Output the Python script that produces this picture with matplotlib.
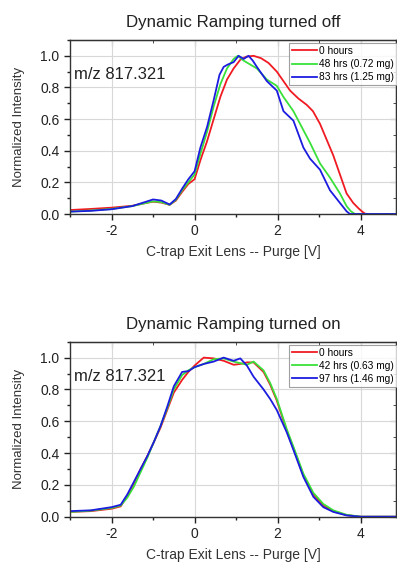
import matplotlib
matplotlib.use("Agg")
import matplotlib.pyplot as plt
from matplotlib.ticker import MultipleLocator

plt.rcParams['font.family'] = ['Liberation Sans', 'DejaVu Sans']
plt.rcParams['axes.unicode_minus'] = False

# ---- Data: top panel (Dynamic Ramping turned off) ----
off_red_x = [-3.0, -2.5, -2.0, -1.5, -1.2, -1.0, -0.8, -0.6, -0.45, -0.3, -0.15, 0.0, 0.14, 0.3, 0.46, 0.62, 0.78, 0.94, 1.1, 1.25, 1.42, 1.6, 1.78, 1.98, 2.14, 2.3, 2.5, 2.7, 2.85, 3.02, 3.18, 3.34, 3.5, 3.66, 3.82, 3.95, 4.05, 4.12, 4.85]
off_red_y = [0.025, 0.032, 0.04, 0.052, 0.068, 0.078, 0.072, 0.058, 0.085, 0.14, 0.19, 0.22, 0.34, 0.46, 0.6, 0.74, 0.85, 0.92, 0.975, 0.995, 1.0, 0.985, 0.955, 0.9, 0.84, 0.78, 0.73, 0.69, 0.65, 0.57, 0.47, 0.37, 0.25, 0.13, 0.07, 0.035, 0.012, 0.0, 0.0]

off_green_x = [-3.0, -2.5, -2.0, -1.5, -1.2, -1.0, -0.8, -0.6, -0.45, -0.3, -0.15, 0.0, 0.14, 0.3, 0.46, 0.62, 0.78, 0.94, 1.04, 1.18, 1.34, 1.5, 1.74, 1.98, 2.14, 2.38, 2.62, 2.78, 3.02, 3.26, 3.5, 3.66, 3.76, 3.86, 4.85]
off_green_y = [0.015, 0.022, 0.032, 0.05, 0.068, 0.08, 0.075, 0.058, 0.09, 0.15, 0.2, 0.25, 0.38, 0.52, 0.68, 0.82, 0.92, 0.98, 1.0, 0.97, 0.945, 0.92, 0.85, 0.81, 0.74, 0.65, 0.53, 0.45, 0.32, 0.23, 0.13, 0.05, 0.018, 0.0, 0.0]

off_blue_x = [-3.0, -2.5, -2.0, -1.5, -1.2, -1.0, -0.8, -0.6, -0.45, -0.3, -0.15, 0.0, 0.14, 0.3, 0.46, 0.6, 0.7, 0.8, 0.94, 1.06, 1.18, 1.3, 1.4, 1.5, 1.74, 1.98, 2.14, 2.38, 2.62, 2.78, 3.02, 3.26, 3.5, 3.66, 3.74, 4.85]
off_blue_y = [0.015, 0.02, 0.03, 0.05, 0.075, 0.092, 0.085, 0.06, 0.095, 0.16, 0.22, 0.27, 0.42, 0.55, 0.72, 0.88, 0.93, 0.945, 0.96, 1.0, 0.98, 1.0, 0.97, 0.93, 0.84, 0.78, 0.65, 0.59, 0.42, 0.35, 0.28, 0.15, 0.07, 0.017, 0.0, 0.0]

# ---- Data: bottom panel (Dynamic Ramping turned on) ----
on_red_x = [-3.0, -2.5, -2.0, -1.78, -1.62, -1.46, -1.3, -1.14, -0.98, -0.82, -0.66, -0.5, -0.3, -0.15, 0.0, 0.22, 0.46, 0.7, 0.94, 1.1, 1.26, 1.42, 1.66, 1.82, 1.98, 2.22, 2.38, 2.62, 2.86, 3.1, 3.34, 3.66, 4.0, 4.85]
on_red_y = [0.03, 0.035, 0.05, 0.065, 0.13, 0.21, 0.3, 0.38, 0.47, 0.56, 0.67, 0.78, 0.86, 0.91, 0.95, 1.0, 0.995, 0.98, 0.955, 0.96, 0.97, 0.97, 0.91, 0.83, 0.73, 0.54, 0.43, 0.26, 0.14, 0.07, 0.035, 0.01, 0.0, 0.0]

on_green_x = [-3.0, -2.5, -2.0, -1.78, -1.62, -1.46, -1.3, -1.14, -0.98, -0.82, -0.66, -0.5, -0.3, -0.15, 0.0, 0.22, 0.46, 0.7, 0.94, 1.1, 1.26, 1.42, 1.66, 1.82, 1.98, 2.22, 2.38, 2.62, 2.86, 3.1, 3.34, 3.66, 4.0, 4.85]
on_green_y = [0.03, 0.038, 0.055, 0.07, 0.12, 0.19, 0.28, 0.37, 0.47, 0.57, 0.68, 0.8, 0.89, 0.92, 0.94, 0.96, 0.99, 0.995, 0.975, 0.965, 0.955, 0.975, 0.92, 0.84, 0.74, 0.55, 0.44, 0.27, 0.15, 0.08, 0.04, 0.012, 0.0, 0.0]

on_blue_x = [-3.0, -2.5, -2.0, -1.78, -1.62, -1.46, -1.3, -1.14, -0.98, -0.82, -0.66, -0.5, -0.3, -0.15, 0.0, 0.22, 0.46, 0.7, 0.94, 1.1, 1.26, 1.42, 1.66, 1.82, 1.98, 2.22, 2.38, 2.62, 2.86, 3.1, 3.34, 3.66, 4.0, 4.85]
on_blue_y = [0.035, 0.04, 0.06, 0.075, 0.14, 0.22, 0.3, 0.38, 0.47, 0.57, 0.69, 0.82, 0.91, 0.915, 0.94, 0.96, 0.975, 1.0, 0.98, 0.995, 0.95, 0.88, 0.8, 0.74, 0.67, 0.53, 0.42, 0.25, 0.125, 0.06, 0.03, 0.008, 0.0, 0.0]

off_labels = ["0 hours", "48 hrs (0.72 mg)", "83 hrs (1.25 mg)"]
on_labels = ["0 hours", "42 hrs (0.63 mg)", "97 hrs (1.46 mg)"]
titles = ["Dynamic Ramping turned off", "Dynamic Ramping turned on"]
annot = "m/z 817.321"
xlabel = "C-trap Exit Lens -- Purge [V]"
ylabel = "Normalized Intensity"

colors = ["#f01a22", "#3ae03a", "#1c1ce0"]

W, H = 397, 567
fig = plt.figure(figsize=(W / 100, H / 100), dpi=100)

panels = [
    (40, 214, [(off_red_x, off_red_y), (off_green_x, off_green_y), (off_blue_x, off_blue_y)], off_labels, titles[0]),
    (341.7, 516.7, [(on_red_x, on_red_y), (on_green_x, on_green_y), (on_blue_x, on_blue_y)], on_labels, titles[1]),
]

for top, bot, series, labels, title in panels:
    ax = fig.add_axes([70 / W, 1 - bot / H, 326 / W, (bot - top) / H])
    for (xs, ys), c, lab in zip(series, colors, labels):
        ax.plot(xs, ys, color=c, lw=1.3, label=lab)
    ax.set_xlim(-3, 4.85)
    ax.set_ylim(0, 1.1)
    ax.xaxis.set_major_locator(MultipleLocator(2))
    ax.xaxis.set_minor_locator(MultipleLocator(1))
    ax.yaxis.set_major_locator(MultipleLocator(0.2))
    ax.yaxis.set_minor_locator(MultipleLocator(0.1))
    ax.yaxis.set_major_formatter(plt.FuncFormatter(lambda v, p: f"{v:.1f}"))
    ax.grid(True, which='major', color='#d8d8d8', lw=0.8)
    ax.set_axisbelow(True)
    ax.tick_params(axis='both', which='both', direction='out', top=False, right=False,
                   labelsize=10, colors='#222222', width=1.0)
    ax.tick_params(which='major', length=4)
    ax.tick_params(which='minor', length=2.5)
    for s in ax.spines.values():
        s.set_color('#333333')
        s.set_linewidth(1.0)
    axt = ax.secondary_xaxis('top')
    axt.xaxis.set_major_locator(MultipleLocator(2))
    axt.xaxis.set_minor_locator(MultipleLocator(1))
    axt.tick_params(which='both', direction='in', labeltop=False, colors='#333333')
    axt.tick_params(which='major', length=4)
    axt.tick_params(which='minor', length=2.5)
    axr = ax.secondary_yaxis('right')
    axr.yaxis.set_major_locator(MultipleLocator(0.2))
    axr.yaxis.set_minor_locator(MultipleLocator(0.1))
    axr.tick_params(which='both', direction='in', labelright=False, colors='#333333')
    axr.tick_params(which='major', length=4)
    axr.tick_params(which='minor', length=2.5)

    ax.set_title(title, fontsize=12.2, color='#222222', pad=9)
    ax.set_xlabel(xlabel, fontsize=10, color='#333333', labelpad=5)
    ax.set_ylabel(ylabel, fontsize=9.5, color='#333333', labelpad=11)
    ax.text(0.012, 0.8, annot, transform=ax.transAxes, fontsize=12, color='#222222', va='center')
    leg = ax.legend(loc='upper left', bbox_to_anchor=(289 / W, 1 - (top + 3) / H),
                    bbox_transform=fig.transFigure, fontsize=7.3, frameon=True, fancybox=False,
                    edgecolor='#888888', handlelength=2.5, handletextpad=0.2,
                    borderpad=0.3, labelspacing=0.3, borderaxespad=0)
    leg.get_frame().set_linewidth(0.8)

fig.savefig("out.png", dpi=100)
